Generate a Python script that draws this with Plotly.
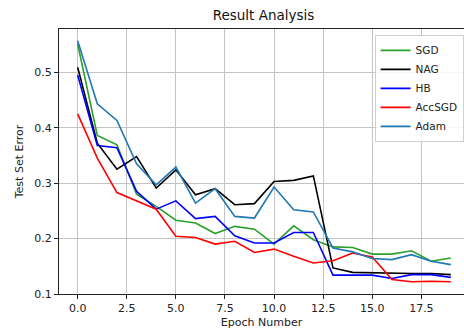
import plotly.graph_objects as go

epochs = list(range(20))
sgd = [0.551, 0.386, 0.369, 0.280, 0.258, 0.233, 0.228, 0.209, 0.222, 0.217, 0.190, 0.223, 0.198, 0.185, 0.184, 0.172, 0.172, 0.178, 0.159, 0.165]
nag = [0.509, 0.372, 0.325, 0.348, 0.291, 0.324, 0.279, 0.290, 0.261, 0.263, 0.303, 0.305, 0.313, 0.147, 0.139, 0.138, 0.137, 0.137, 0.137, 0.135]
hb = [0.495, 0.368, 0.364, 0.285, 0.253, 0.268, 0.236, 0.240, 0.205, 0.192, 0.192, 0.211, 0.211, 0.134, 0.134, 0.134, 0.128, 0.135, 0.135, 0.130]
accsgd = [0.425, 0.345, 0.283, 0.268, 0.253, 0.204, 0.202, 0.190, 0.195, 0.175, 0.181, 0.168, 0.156, 0.160, 0.174, 0.167, 0.126, 0.122, 0.123, 0.122]
adam = [0.557, 0.443, 0.413, 0.335, 0.297, 0.329, 0.264, 0.290, 0.240, 0.237, 0.293, 0.252, 0.248, 0.183, 0.176, 0.164, 0.162, 0.171, 0.159, 0.153]

series = [("SGD", sgd, "#2ca02c"), ("NAG", nag, "#000000"), ("HB", hb, "#0000ff"),
          ("AccSGD", accsgd, "#ff0000"), ("Adam", adam, "#1f77b4")]

x_ticks = [0.0, 2.5, 5.0, 7.5, 10.0, 12.5, 15.0, 17.5]
y_ticks = [0.1, 0.2, 0.3, 0.4, 0.5]

FONT = "DejaVu Sans"
fig = go.Figure()
for name, vals, col in series:
    fig.add_trace(go.Scatter(x=epochs, y=vals, mode="lines", name=name,
                             line=dict(color=col, width=1.6)))

fig.update_layout(
    width=464, height=330,
    margin=dict(l=58.5, r=0, t=29, b=35.5, autoexpand=False),
    paper_bgcolor="white", plot_bgcolor="white",
    font=dict(family=FONT, size=11, color="#222"),
    title=dict(text="Result Analysis", x=263.5/464, xanchor="center",
               y=1 - 15.5/330, yanchor="middle", font=dict(size=13.5, color="#111")),
    showlegend=True,
    legend=dict(x=0.999, y=0.978, xanchor="right", yanchor="top",
                bgcolor="rgba(255,255,255,0.85)", bordercolor="#d0d0d0", borderwidth=1,
                font=dict(size=10.5, color="#222"), tracegroupgap=0),
)
fig.update_xaxes(range=[-0.95, 19.67], tickmode="array", tickvals=x_ticks,
                 ticktext=[f"{v:.1f}" for v in x_ticks],
                 showgrid=True, gridcolor="#c4c4c4", gridwidth=1,
                 showline=True, linecolor="#222", linewidth=1, mirror=True,
                 ticks="outside", ticklen=4, tickcolor="#222", zeroline=False,
                 title=dict(text="Epoch Number", standoff=4, font=dict(size=11)))
fig.update_yaxes(range=[0.1, 0.578], tickmode="array", tickvals=y_ticks,
                 ticktext=[f"{v:.1f}" for v in y_ticks],
                 showgrid=True, gridcolor="#c4c4c4", gridwidth=1,
                 showline=True, linecolor="#222", linewidth=1,
                 ticks="outside", ticklen=4, tickcolor="#222", zeroline=False,
                 title=dict(text="Test Set Error", standoff=8, font=dict(size=11)))

fig.write_html("out.html", config={"displayModeBar": False},
               post_script="document.body.style.margin='0';document.body.style.overflow='hidden';")
